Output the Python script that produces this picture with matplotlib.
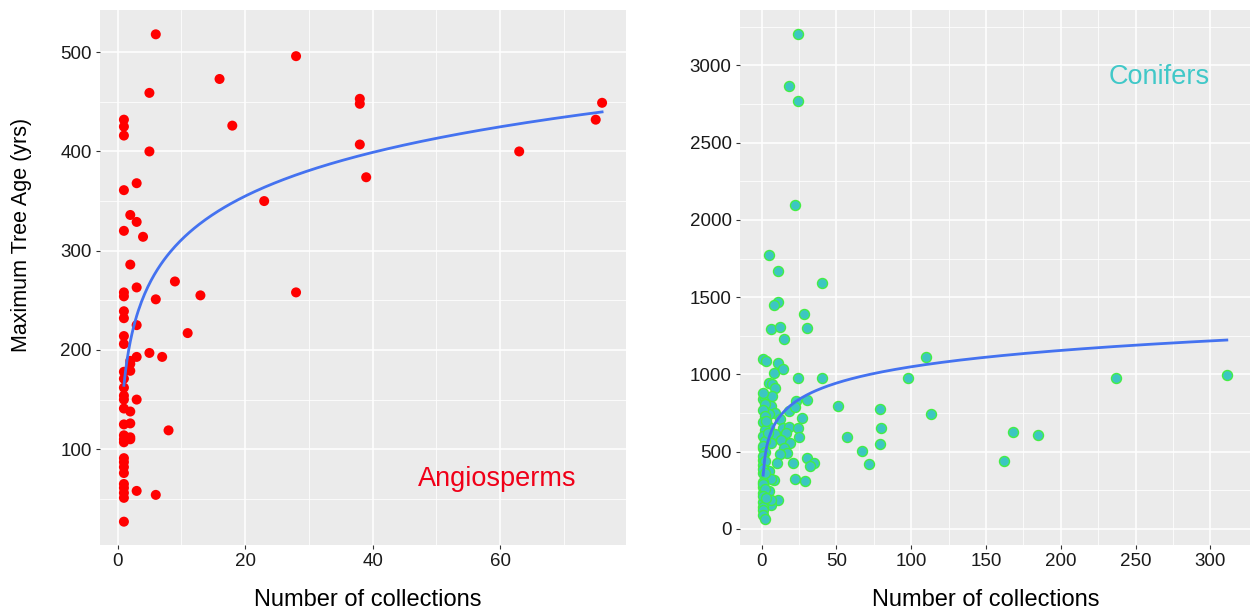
import matplotlib as mpl
mpl.use('Agg')
import matplotlib.pyplot as plt
import numpy as np

mpl.rcParams['font.family'] = ['Liberation Sans', 'DejaVu Sans']

# angiosperms: number of collections vs maximum tree age
angio_n = [6, 28, 16, 5, 1, 1, 1, 18, 5, 3, 1, 23, 2, 3, 1, 4, 2, 3, 1, 1,
           9, 6, 13, 28, 38, 38, 38, 39, 63, 75, 76,
           1, 1, 3, 11, 1, 1, 5, 3, 7, 2, 2, 1, 2, 1, 1, 1, 1, 1, 3, 2,
           1, 2, 8, 1, 1, 1, 2, 2, 1, 1, 1, 1, 1, 1, 1, 1, 3, 6, 1]
angio_age = [518, 496, 473, 459, 432, 425, 416, 426, 400, 368, 361, 350, 336, 329, 320, 314, 286, 263, 258, 254,
             269, 251, 255, 258, 453, 448, 407, 374, 400, 432, 449,
             239, 232, 225, 217, 214, 206, 197, 193, 193, 189, 186, 178, 179, 171, 162, 154, 150, 141, 150, 138,
             125, 126, 119, 114, 110, 107, 112, 110, 91, 87, 82, 76, 65, 61, 56, 51, 58, 54, 27]
# fitted curve  age = a + b*ln(n)
angio_fit = (164.4, 63.6)

# conifers
conif_n = [24, 18, 24, 22, 5, 11, 40, 11, 8, 28, 6, 12, 30, 15, 1, 3, 11, 8, 14, 24,
           40, 5, 7, 9, 1, 2, 7, 23, 30, 6, 51, 79, 18, 22, 9, 5, 12, 27, 3, 5,
           14, 18, 24, 80, 9, 16, 25, 2, 57, 13, 19, 6, 79, 1, 15, 17, 12, 67, 1, 1,
           10, 30, 35, 32, 21, 72, 5, 1, 3, 8, 6, 22, 29, 1, 1, 5, 1, 11, 1, 6,
           6, 1, 1, 1, 2, 98, 110, 113, 162, 168, 185, 237, 311,
           1, 2, 1, 2, 1, 2, 1, 2, 1, 2, 1, 2, 1, 2, 1, 2, 1, 3, 4, 3]
conif_age = [3202, 2865, 2770, 2095, 1772, 1672, 1594, 1467, 1448, 1394, 1293, 1306, 1299, 1228, 1100, 1087, 1074, 1008, 1034, 979,
             979, 943, 937, 915, 839, 846, 861, 828, 835, 798, 798, 779, 764, 792, 753, 742, 714, 720, 684, 662,
             656, 662, 656, 656, 615, 619, 594, 597, 597, 576, 555, 559, 552, 522, 526, 490, 485, 507, 447, 414,
             425, 458, 429, 408, 425, 421, 377, 361, 339, 317, 324, 326, 313, 306, 274, 248, 231, 188, 177, 155,
             188, 144, 123, 91, 63, 977, 1115, 742, 438, 630, 610, 979, 999,
             880, 810, 770, 730, 690, 640, 600, 570, 540, 500, 470, 440, 390, 360, 290, 260, 210, 200, 620, 700]
conif_fit = (348.0, 152.4)

grey_bg = '#EBEBEB'
fit_blue = '#4472F0'


def style_axes(ax):
    ax.set_facecolor(grey_bg)
    for s in ax.spines.values():
        s.set_visible(False)
    ax.grid(which='major', color='white', lw=1.1)
    ax.grid(which='minor', color='white', lw=0.55)
    ax.set_axisbelow(True)
    ax.tick_params(which='major', length=3, width=0.8, color='#333333',
                   labelsize=13.5, labelcolor='#1a1a1a', pad=3)
    ax.tick_params(which='minor', length=0)


def log_curve(ax, x, coef):
    a, b = coef
    xs = np.linspace(min(x), max(x), 300)
    ax.plot(xs, a + b * np.log(xs), color=fit_blue, lw=2.0, zorder=3)


fig = plt.figure(figsize=(12.54, 6.12), dpi=100)
ax1 = fig.add_axes([100/1254, 67/612, 526/1254, 535/612])
ax2 = fig.add_axes([740/1254, 67/612, 510/1254, 535/612])

# left: angiosperms
style_axes(ax1)
ax1.scatter(angio_n, angio_age, s=52, color='#FF0000', edgecolors='none', zorder=2)
log_curve(ax1, angio_n, angio_fit)
ax1.set_xlim(-2.75, 79.75)
ax1.set_ylim(3.5, 542.5)
ax1.set_xticks([0, 20, 40, 60])
ax1.set_xticks([10, 30, 50, 70], minor=True)
ax1.set_yticks([100, 200, 300, 400, 500])
ax1.set_yticks([50, 150, 250, 350, 450], minor=True)
ax1.text(0.755, 0.1234, 'Angiosperms', transform=ax1.transAxes, color='#F00018',
         fontsize=19.5, ha='center', va='center')

# right: conifers
style_axes(ax2)
ax2.scatter(conif_n, conif_age, s=52, color='#3CC6C2', edgecolors='#44EE44',
            linewidths=1.0, zorder=2)
log_curve(ax2, conif_n, conif_fit)
ax2.set_xlim(-14.5, 326.5)
ax2.set_ylim(-104, 3359)
ax2.set_xticks([0, 50, 100, 150, 200, 250, 300])
ax2.set_xticks([25, 75, 125, 175, 225, 275], minor=True)
ax2.set_yticks([0, 500, 1000, 1500, 2000, 2500, 3000])
ax2.set_yticks([250, 750, 1250, 1750, 2250, 2750, 3250], minor=True)
ax2.text(0.8216, 0.8748, 'Conifers', transform=ax2.transAxes, color='#40C8C8',
         fontsize=19.5, ha='center', va='center')

fig.text(368/1254, 1 - 600/612, 'Number of collections', ha='center', va='center', fontsize=17)
fig.text(986/1254, 1 - 600/612, 'Number of collections', ha='center', va='center', fontsize=17)
fig.text(22/1254, 1 - 235/612, 'Maximum Tree Age (yrs)', ha='center', va='center',
         rotation='vertical', fontsize=15.5)

plt.savefig('out.png', dpi=100)
